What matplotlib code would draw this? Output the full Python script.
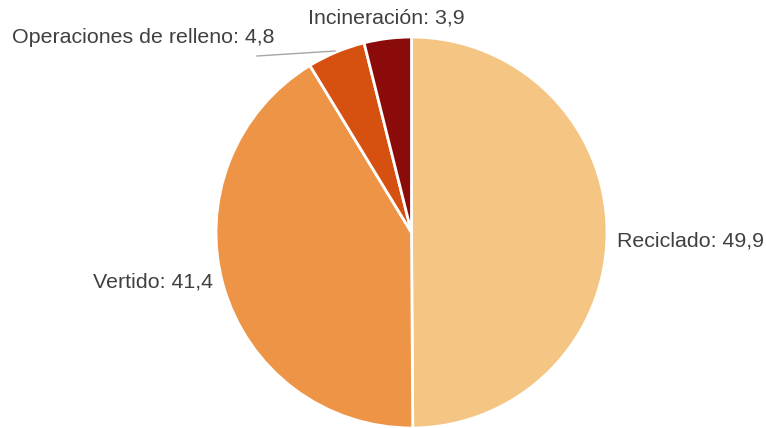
import matplotlib.pyplot as plt

categories = ["Reciclado", "Vertido", "Operaciones de relleno", "Incineración"]
values = [49.9, 41.4, 4.8, 3.9]
colors = ["#F5C584", "#ED9447", "#D6500F", "#8B0A0A"]

W, H = 766, 428
fig = plt.figure(figsize=(W / 100, H / 100), dpi=100)
ax = fig.add_axes([0, 0, 1, 1])

cx, cy, r = 411.5, H - 232.5, 195.5
ax.pie(values, colors=colors, startangle=90, counterclock=False,
       center=(cx, cy), radius=r, frame=True,
       wedgeprops=dict(edgecolor="white", linewidth=2))
ax.set_xlim(0, W)
ax.set_ylim(0, H)
ax.set_aspect("equal")
ax.axis("off")

def lbl(i):
    return f"{categories[i]}: {values[i]:.1f}".replace(".", ",")

txt = dict(color="#404040", fontsize=15.4, family="Liberation Sans")
ax.text(617, H - 241, lbl(0), ha="left", va="center", **txt)
ax.text(213, H - 282, lbl(1), ha="right", va="center", **txt)
ax.text(12, H - 37, lbl(2), ha="left", va="center", **txt)
ax.text(386, H - 18, lbl(3), ha="center", va="center", **txt)
ax.plot([257, 335], [H - 56, H - 51], color="#A6A6A6", linewidth=1)

fig.savefig("out.png", dpi=100)
